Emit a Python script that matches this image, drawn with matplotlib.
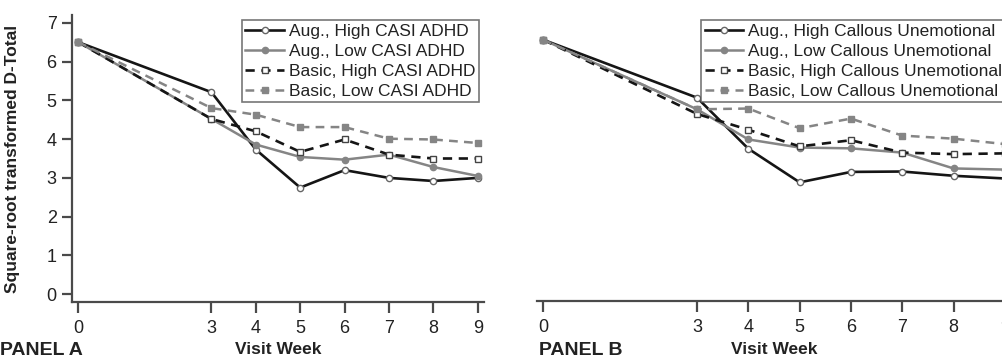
import numpy as np
import matplotlib
matplotlib.use('Agg')
import matplotlib.pyplot as plt

plt.rcParams['font.family'] = ['Liberation Sans', 'DejaVu Sans']

# ==================== data ====================
weeks = [0, 3, 4, 5, 6, 7, 8, 9]

labels_a = ['Aug., High CASI ADHD', 'Aug., Low CASI ADHD',
            'Basic, High CASI ADHD', 'Basic, Low CASI ADHD']
aug_high_a = [6.50, 5.21, 3.73, 2.75, 3.20, 3.00, 2.92, 3.00]
aug_low_a = [6.50, 4.52, 3.86, 3.54, 3.47, 3.60, 3.28, 3.05]
basic_high_a = [6.50, 4.52, 4.20, 3.67, 3.99, 3.60, 3.50, 3.50]
basic_low_a = [6.50, 4.80, 4.63, 4.31, 4.31, 4.01, 3.99, 3.90]

labels_b = ['Aug., High Callous Unemotional', 'Aug., Low Callous Unemotional',
            'Basic, High Callous Unemotional', 'Basic, Low Callous Unemotional']
aug_high_b = [6.56, 5.06, 3.74, 2.87, 3.14, 3.15, 3.04, 2.97]
aug_low_b = [6.56, 4.76, 3.98, 3.77, 3.75, 3.64, 3.23, 3.20]
basic_high_b = [6.56, 4.64, 4.23, 3.80, 3.96, 3.64, 3.60, 3.62]
basic_low_b = [6.56, 4.76, 4.78, 4.27, 4.52, 4.08, 4.00, 3.86]

yticks = [0, 1, 2, 3, 4, 5, 6, 7]
# ==============================================

BLACK = '#151515'
GRAY = '#858585'
SPINE = '#4a4a4a'
TXT = '#222222'

styles = [
    dict(color=BLACK, lw=1.9, ls='-', marker='o', ms=4.5, mfc='white', mec='#666666', mew=1.0),
    dict(color=GRAY, lw=1.8, ls='-', marker='o', ms=4.5, mfc=GRAY, mec=GRAY),
    dict(color=BLACK, lw=1.9, ls=(0, (3.5, 2.5)), marker='s', ms=4.5, mfc='white', mec='#444444', mew=1.0),
    dict(color=GRAY, lw=1.8, ls=(0, (3.5, 2.5)), marker='s', ms=4.5, mfc=GRAY, mec=GRAY),
]

W, H = 1002, 360
fig = plt.figure(figsize=(W / 100, H / 100), dpi=100)


def px_axes(left, right, bottom, top):
    return fig.add_axes([left / W, 1 - bottom / H, (right - left) / W, (bottom - top) / H])


def draw_panel(ax, series, labels, xlim, show_y):
    for ys, lab, st in zip(series, labels, styles):
        ax.plot(weeks, ys, label=lab, **st)
    ax.set_xlim(*xlim)
    ax.set_ylim(-0.2, 7.2)
    ax.set_xticks(weeks)
    for s in ['top', 'right']:
        ax.spines[s].set_visible(False)
    ax.spines['bottom'].set_color(SPINE)
    ax.spines['bottom'].set_linewidth(1.6)
    ax.tick_params(axis='x', direction='out', length=8, width=1.6, color=SPINE,
                   labelsize=13, pad=5, labelcolor=TXT)
    if show_y:
        ax.spines['left'].set_color(SPINE)
        ax.spines['left'].set_linewidth(1.6)
        ax.set_yticks(yticks)
        ax.tick_params(axis='y', direction='out', length=7, width=1.6, color=SPINE,
                       labelsize=13, pad=4, labelcolor=TXT)
    else:
        ax.spines['left'].set_visible(False)
        ax.set_yticks([])
    leg = ax.legend(loc='upper right', frameon=True, fancybox=False, fontsize=12.5,
                    handlelength=2.2, handletextpad=0.3, borderpad=0.2,
                    labelspacing=0.28, borderaxespad=0.3)
    leg.get_frame().set_edgecolor('#555555')
    leg.get_frame().set_linewidth(1.2)
    for t in leg.get_texts():
        t.set_color(TXT)
    return leg


# panel A
ax_a = px_axes(72, 484, 302, 15)
draw_panel(ax_a, [aug_high_a, aug_low_a, basic_high_a, basic_low_a], labels_a,
           (-0.14, 9.14), True)
ax_a.set_ylabel('Square-root transformed D-Total', fontsize=12.5, fontweight='bold', color=TXT)
ax_a.yaxis.set_label_coords(-0.125, 0.5)

# panel B (right side cut off in original)
ax_b = px_axes(537, 1011, 301, 15)
draw_panel(ax_b, [aug_high_b, aug_low_b, basic_high_b, basic_low_b], labels_b,
           (-0.12, 9.12), False)

fig.text(0 / W, 1 - 342 / H, 'PANEL A', fontsize=14, fontweight='bold', va='top', color=TXT)
fig.text(278 / W, 1 - 342 / H, 'Visit Week', fontsize=12.5, fontweight='bold', va='top',
         ha='center', color=TXT)
fig.text(539 / W, 1 - 342 / H, 'PANEL B', fontsize=14, fontweight='bold', va='top', color=TXT)
fig.text(774 / W, 1 - 342 / H, 'Visit Week', fontsize=12.5, fontweight='bold', va='top',
         ha='center', color=TXT)

fig.savefig('out.png', dpi=100)
